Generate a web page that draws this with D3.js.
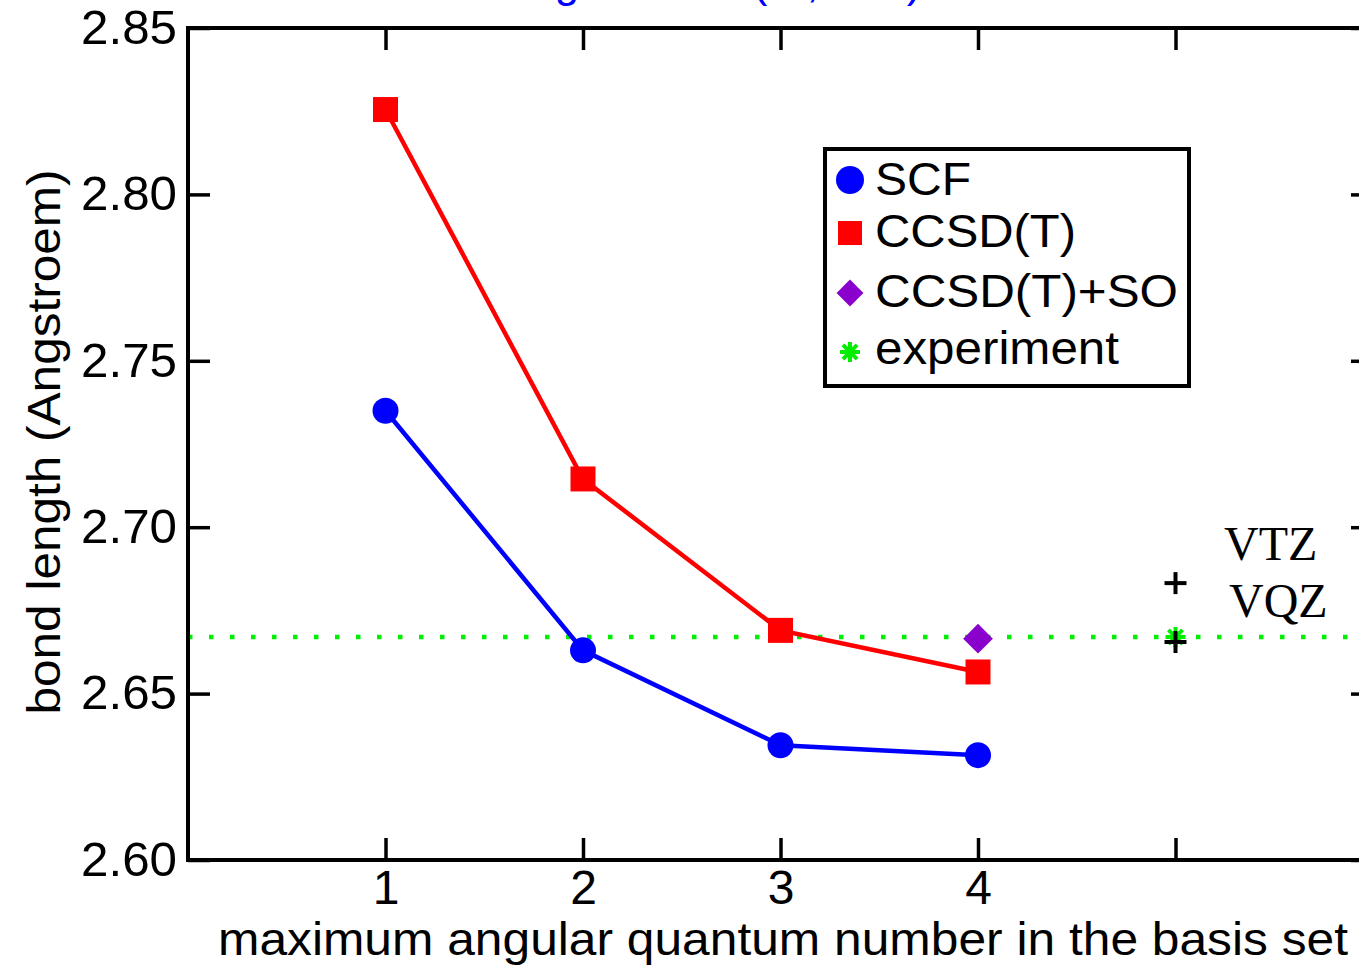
<!DOCTYPE html>
<html>
<head>
<meta charset="utf-8">
<script src="https://cdn.jsdelivr.net/npm/d3@7"></script>
<style>
  body { margin: 0; background: #fff; }
  svg { display: block; font-family: "Liberation Sans", Arial, sans-serif; }
</style>
</head>
<body>
<svg width="1359" height="967"></svg>
<script>
var svg = d3.select('svg'),
    width = +svg.attr('width'),
    height = +svg.attr('height');

// data
var lValues = [1, 2, 3, 4];
var scfValues = [2.735, 2.663, 2.6345, 2.6315];
var ccsdtValues = [2.8255, 2.7145, 2.669, 2.6565];
var soPoint = { l: 4, r: 2.6665 };
var experimentValue = 2.667;
var experimentL = 5;
var basisPoints = [
    { name: 'VTZ', l: 5, r: 2.6832 },
    { name: 'VQZ', l: 5, r: 2.6655 }
];
var xTicks = [1, 2, 3, 4, 5];
var xTickLabels = ['1', '2', '3', '4', ''];
var yTicks = [2.60, 2.65, 2.70, 2.75, 2.80, 2.85];

var legendItems = [
    { name: 'SCF', color: '#0000ff', shape: 'circle' },
    { name: 'CCSD(T)', color: '#ff0000', shape: 'square' },
    { name: 'CCSD(T)+SO', color: '#8a00cc', shape: 'diamond' },
    { name: 'experiment', color: '#00ee00', shape: 'star' }
];

var x = d3.scaleLinear().domain([0, 6]).range([188, 1373]);
var y = d3.scaleLinear().domain([2.60, 2.85]).range([860, 28]);

// title, cut off at the top like in the original
svg.append('text')
    .attr('x', 381).attr('y', -3)
    .attr('fill', '#0000ff')
    .attr('font-size', 44)
    .text('Bond length of Bi2 (re, in Å) for basis sets');

// dotted experiment line
svg.append('line')
    .attr('x1', x(0)).attr('x2', x(6))
    .attr('y1', y(experimentValue)).attr('y2', y(experimentValue))
    .attr('stroke', '#00ee00')
    .attr('stroke-width', 4.5)
    .attr('stroke-dasharray', '4.5 16.5');

// axes
var axisBottom = svg.append('g')
    .attr('transform', 'translate(0,' + y(2.60) + ')')
    .call(d3.axisBottom(x).tickValues(xTicks).tickFormat(function(d, i) { return xTickLabels[i]; })
        .tickSizeInner(-22).tickSizeOuter(0).tickPadding(10));
var axisTop = svg.append('g')
    .attr('transform', 'translate(0,' + y(2.85) + ')')
    .call(d3.axisTop(x).tickValues(xTicks).tickFormat('')
        .tickSizeInner(-22).tickSizeOuter(0));
var axisLeft = svg.append('g')
    .attr('transform', 'translate(' + x(0) + ',0)')
    .call(d3.axisLeft(y).tickValues(yTicks).tickFormat(d3.format('.2f'))
        .tickSizeInner(-22).tickSizeOuter(0).tickPadding(10));
var axisRight = svg.append('g')
    .attr('transform', 'translate(' + x(6) + ',0)')
    .call(d3.axisRight(y).tickValues(yTicks).tickFormat('')
        .tickSizeInner(-22).tickSizeOuter(0));

[axisBottom, axisTop, axisLeft, axisRight].forEach(function(a) {
    a.select('.domain').remove();
    a.selectAll('.tick line').attr('stroke', '#000').attr('stroke-width', 3.5);
    a.selectAll('.tick text')
        .attr('fill', '#000')
        .attr('font-family', '"Liberation Sans", Arial, sans-serif')
        .attr('font-size', 48);
});
axisLeft.selectAll('.tick text')
    .attr('x', -11)
    .attr('textLength', 96).attr('lengthAdjust', 'spacingAndGlyphs');

// frame
svg.append('rect')
    .attr('x', x(0)).attr('y', y(2.85))
    .attr('width', x(6) - x(0)).attr('height', y(2.60) - y(2.85))
    .attr('fill', 'none')
    .attr('stroke', '#000')
    .attr('stroke-width', 4);

// axis titles
svg.append('text')
    .attr('x', 783).attr('y', 955)
    .attr('text-anchor', 'middle')
    .attr('font-size', 46)
    .attr('textLength', 1130).attr('lengthAdjust', 'spacingAndGlyphs')
    .text('maximum angular quantum number in the basis set');

svg.append('text')
    .attr('transform', 'translate(60,442) rotate(-90)')
    .attr('text-anchor', 'middle')
    .attr('font-size', 46)
    .attr('textLength', 545).attr('lengthAdjust', 'spacingAndGlyphs')
    .text('bond length (Angstroem)');

// lines
var line = d3.line()
    .x(function(d) { return x(d[0]); })
    .y(function(d) { return y(d[1]); });

var scfData = lValues.map(function(l, i) { return [l, scfValues[i]]; });
var ccsdtData = lValues.map(function(l, i) { return [l, ccsdtValues[i]]; });

svg.append('path').datum(scfData)
    .attr('d', line).attr('fill', 'none')
    .attr('stroke', '#0000ff').attr('stroke-width', 4.5);
svg.append('path').datum(ccsdtData)
    .attr('d', line).attr('fill', 'none')
    .attr('stroke', '#ff0000').attr('stroke-width', 4.5);

svg.append('g').selectAll('path')
    .data(scfData).enter().append('path')
    .attr('transform', function(d) { return 'translate(' + x(d[0]) + ',' + y(d[1]) + ')'; })
    .attr('d', d3.symbol().type(d3.symbolCircle).size(Math.PI * 13 * 13))
    .attr('fill', '#0000ff');

svg.append('g').selectAll('path')
    .data(ccsdtData).enter().append('path')
    .attr('transform', function(d) { return 'translate(' + x(d[0]) + ',' + y(d[1]) + ')'; })
    .attr('d', d3.symbol().type(d3.symbolSquare).size(25 * 25))
    .attr('fill', '#ff0000');

// diamond = square turned by 45 degrees
svg.append('path')
    .attr('transform', 'translate(' + x(soPoint.l) + ',' + y(soPoint.r) + ') rotate(45)')
    .attr('d', d3.symbol().type(d3.symbolSquare).size(21 * 21))
    .attr('fill', '#8a00cc');

// green asterisk
function drawStar(g, cx, cy, r) {
    for (var k = 0; k < 4; k++) {
        var a = k * Math.PI / 4;
        g.append('line')
            .attr('x1', cx - r * Math.cos(a)).attr('y1', cy - r * Math.sin(a))
            .attr('x2', cx + r * Math.cos(a)).attr('y2', cy + r * Math.sin(a))
            .attr('stroke', '#00ee00').attr('stroke-width', 4);
    }
}
drawStar(svg, x(experimentL), y(experimentValue), 10);

// black plus signs for VTZ / VQZ
var plus = svg.append('g').selectAll('g')
    .data(basisPoints).enter().append('g')
    .attr('transform', function(d) { return 'translate(' + x(d.l) + ',' + y(d.r) + ')'; });
plus.append('line').attr('x1', -11).attr('x2', 11).attr('y1', 0).attr('y2', 0)
    .attr('stroke', '#000').attr('stroke-width', 4);
plus.append('line').attr('x1', 0).attr('x2', 0).attr('y1', -11).attr('y2', 11)
    .attr('stroke', '#000').attr('stroke-width', 4);

svg.append('text')
    .attr('x', 1224).attr('y', 560)
    .attr('font-family', '"Liberation Serif", "Times New Roman", serif')
    .attr('font-size', 48)
    .text(basisPoints[0].name);
svg.append('text')
    .attr('x', 1229).attr('y', 617)
    .attr('font-family', '"Liberation Serif", "Times New Roman", serif')
    .attr('font-size', 48)
    .text(basisPoints[1].name);

// legend
var legend = svg.append('g');
legend.append('rect')
    .attr('x', 825).attr('y', 149)
    .attr('width', 364).attr('height', 237)
    .attr('fill', '#fff')
    .attr('stroke', '#000').attr('stroke-width', 4);

var legendY = [180, 233, 293, 352];
var legendText = [195, 247, 307, 364];
var legendLen = [96, 201, 303, 244];
legendItems.forEach(function(item, i) {
    if (item.shape === 'star') {
        drawStar(legend, 850, legendY[i], 10);
    } else if (item.shape === 'diamond') {
        legend.append('path')
            .attr('transform', 'translate(850,' + legendY[i] + ') rotate(45)')
            .attr('d', d3.symbol().type(d3.symbolSquare).size(19 * 19))
            .attr('fill', item.color);
    } else {
        legend.append('path')
            .attr('transform', 'translate(850,' + legendY[i] + ')')
            .attr('d', item.shape === 'circle' ? d3.symbol().type(d3.symbolCircle).size(Math.PI * 14 * 14)
                : d3.symbol().type(d3.symbolSquare).size(24 * 24))
            .attr('fill', item.color);
    }
    legend.append('text')
        .attr('x', 875).attr('y', legendText[i])
        .attr('font-size', 46)
        .attr('textLength', legendLen[i]).attr('lengthAdjust', 'spacingAndGlyphs')
        .text(item.name);
});
</script>
</body>
</html>
